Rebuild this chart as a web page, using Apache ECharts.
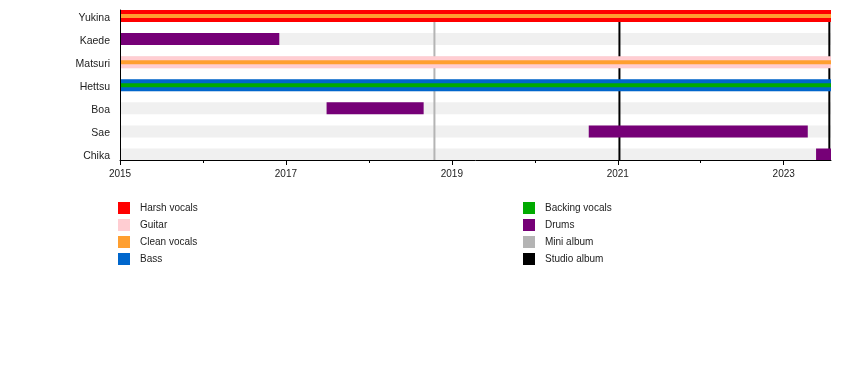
<!DOCTYPE html>
<html>
<head>
<meta charset="utf-8">
<script src="https://cdn.jsdelivr.net/npm/echarts@6/dist/echarts.min.js"></script>
<style>html,body{margin:0;padding:0;background:#fff}#c{width:850px;height:370px}</style>
</head>
<body>
<div id="c"></div>
<script>
// ---- data ----
var members = ['Yukina', 'Kaede', 'Matsuri', 'Hettsu', 'Boa', 'Sae', 'Chika'];
var roles = ['Harsh vocals', 'Guitar', 'Clean vocals', 'Bass', 'Backing vocals', 'Drums', 'Mini album', 'Studio album'];
var roleColors = ['#ff0000', '#ffcdd2', '#ff9f30', '#0066cc', '#00aa00', '#760077', '#b4b4b4', '#000000'];
var timelineStart = 2015;
var timelineEnd = 2023.57;
var xTickLabels = [2015, 2017, 2019, 2021, 2023];
var xMinorTicks = [2016, 2018, 2020, 2022];
// primary roles: [member index, role index, start, end]
var primaryPeriods = [
  [0, 0, 2015, 2023.57],
  [1, 5, 2015, 2016.92],
  [2, 1, 2015, 2023.57],
  [3, 3, 2015, 2023.57],
  [4, 5, 2017.49, 2018.66],
  [5, 5, 2020.65, 2023.29],
  [6, 5, 2023.39, 2023.57]
];
// secondary roles: [member index, role index, start, end]
var secondaryPeriods = [
  [0, 2, 2015, 2023.57],
  [2, 2, 2015, 2023.57],
  [3, 4, 2015, 2023.57]
];
var miniAlbums = [2018.79];
var studioAlbums = [2021.02, 2023.55];

// ---- chart ----
var FONT = '"Liberation Sans", Arial, sans-serif';
var chart = echarts.init(document.getElementById('c'), null, {renderer: 'canvas'});

function barRenderer(h) {
  return function (params, api) {
    var s = api.coord([api.value(2), api.value(0)]);
    var e = api.coord([api.value(3), api.value(0)]);
    var rect = echarts.graphic.clipRectByRect(
      {x: s[0], y: s[1] - h / 2, width: e[0] - s[0], height: h},
      params.coordSys);
    return rect && {type: 'rect', shape: rect, style: {fill: api.visual('color')}};
  };
}
function lineRenderer(params, api) {
  var p = api.coord([api.value(0), 0]);
  var cs = params.coordSys;
  return {type: 'line', shape: {x1: p[0], y1: cs.y, x2: p[0], y2: cs.y + cs.height},
          style: {stroke: api.visual('color'), lineWidth: 2}};
}

var series = [];
// background rows
series.push({
  type: 'custom', name: 'bg', z: 1, silent: true,
  itemStyle: {color: '#f0f0f0'},
  renderItem: barRenderer(12),
  encode: {x: [2, 3], y: 0},
  data: members.map(function (m, i) { return [i, -1, timelineStart, timelineEnd]; })
});
roles.forEach(function (r, ri) {
  if (r === 'Mini album' || r === 'Studio album') {
    var vals = r === 'Mini album' ? miniAlbums : studioAlbums;
    series.push({
      type: 'custom', name: r, z: 2, silent: true,
      itemStyle: {color: roleColors[ri]},
      renderItem: lineRenderer,
      encode: {x: 0},
      data: vals.map(function (v) { return [v]; })
    });
  } else {
    series.push({
      type: 'custom', name: r, z: 3, silent: true,
      itemStyle: {color: roleColors[ri]},
      renderItem: barRenderer(12),
      encode: {x: [2, 3], y: 0},
      data: primaryPeriods.filter(function (p) { return p[1] === ri; })
    });
    series.push({
      type: 'custom', name: r, z: 4, silent: true,
      itemStyle: {color: roleColors[ri]},
      renderItem: barRenderer(4),
      encode: {x: [2, 3], y: 0},
      data: secondaryPeriods.filter(function (p) { return p[1] === ri; })
    });
  }
});

var legendCommon = {
  orient: 'vertical', icon: 'rect', itemWidth: 12, itemHeight: 12, itemGap: 5,
  selectedMode: false, padding: 0,
  textStyle: {fontFamily: FONT, fontSize: 10, color: '#222', padding: [0, 0, 0, 5]}
};

chart.setOption({
  animation: false,
  grid: {left: 120, right: 19, top: 10, height: 150},
  legend: [
    Object.assign({left: 118, top: 202, data: roles.slice(0, 4)}, legendCommon),
    Object.assign({left: 523, top: 202, data: roles.slice(4)}, legendCommon)
  ],
  xAxis: [{
    type: 'value', min: timelineStart, max: timelineEnd, position: 'bottom', z: 10,
    axisLine: {show: true, onZero: false, lineStyle: {color: '#000', width: 1}},
    axisTick: {show: true, length: 5, customValues: xTickLabels, lineStyle: {color: '#000'}},
    splitLine: {show: false},
    axisLabel: {
      fontFamily: FONT, fontSize: 10, color: '#222', margin: 9,
      customValues: xTickLabels,
      formatter: function (v) { return String(Math.round(v)); }
    }
  }, {
    type: 'value', min: timelineStart, max: timelineEnd, position: 'bottom', z: 10,
    axisLine: {show: false, onZero: false},
    axisTick: {show: true, length: 3, customValues: xMinorTicks, lineStyle: {color: '#000'}},
    splitLine: {show: false},
    axisLabel: {show: false}
  }],
  yAxis: {
    type: 'value', inverse: true, min: -0.26, max: 6.238, z: 10,
    axisLine: {show: true, onZero: false, lineStyle: {color: '#000', width: 1}},
    axisTick: {show: false},
    splitLine: {show: false},
    axisLabel: {
      fontFamily: FONT, fontSize: 10.5, color: '#222', margin: 10,
      customValues: members.map(function (m, i) { return i + 0.09; }),
      formatter: function (v) { return members[Math.round(v)] || ''; }
    }
  },
  series: series
});
</script>
</body>
</html>
